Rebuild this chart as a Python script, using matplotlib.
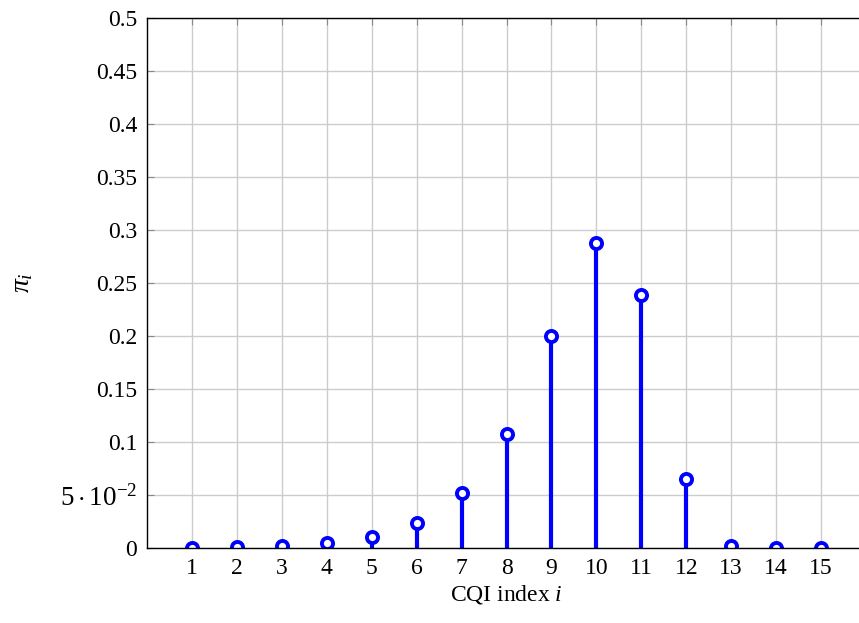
import matplotlib.pyplot as plt
import numpy as np

plt.rcParams['font.family'] = ['Liberation Serif', 'DejaVu Serif']
plt.rcParams['mathtext.fontset'] = 'custom'
plt.rcParams['mathtext.rm'] = 'Liberation Serif'
plt.rcParams['mathtext.it'] = 'Liberation Serif:italic'

cqi = [1, 2, 3, 4, 5, 6, 7, 8, 9, 10, 11, 12, 13, 14, 15]
pi_vals = [0.0003, 0.0005, 0.002, 0.0044, 0.0107, 0.0233, 0.0516, 0.1075,
           0.2, 0.2874, 0.2384, 0.0654, 0.0019, 0.0001, 0.0]
yticks = [0, 0.05, 0.1, 0.15, 0.2, 0.25, 0.3, 0.35, 0.4, 0.45, 0.5]
ylabels = ['0', r'$5\cdot10^{-2}$', '0.1', '0.15', '0.2', '0.25', '0.3',
           '0.35', '0.4', '0.45', '0.5']

fig = plt.figure(figsize=(8.59, 6.23), dpi=100)
ax = fig.add_axes([147/859, 1 - 548/623, (866-147)/859, 530/623])

ml, sl, bl = ax.stem(cqi, pi_vals, basefmt=' ')
plt.setp(sl, color='blue', linewidth=3)
plt.setp(ml, marker='o', markersize=8, markerfacecolor='white',
         markeredgecolor='blue', markeredgewidth=2.8)

ax.set_xlim(0, 16)
ax.set_ylim(0, 0.5)
ax.set_xticks(cqi)
ax.set_yticks(yticks)
ax.set_yticklabels(ylabels)
ax.grid(True, color='#cccccc', linewidth=1)
ax.set_axisbelow(True)
ax.tick_params(direction='in', length=5, color='#888888', labelsize=17,
               top=True, right=True, pad=7)
ax.get_yticklabels()[1].set_fontsize(19.5)

for s in ax.spines.values():
    s.set_linewidth(1)

ax.set_xlabel('CQI index $i$', fontsize=17, labelpad=3)
ax.set_ylabel(r'$\pi_i$', fontsize=20, labelpad=18)

plt.savefig('out.png', dpi=100)
